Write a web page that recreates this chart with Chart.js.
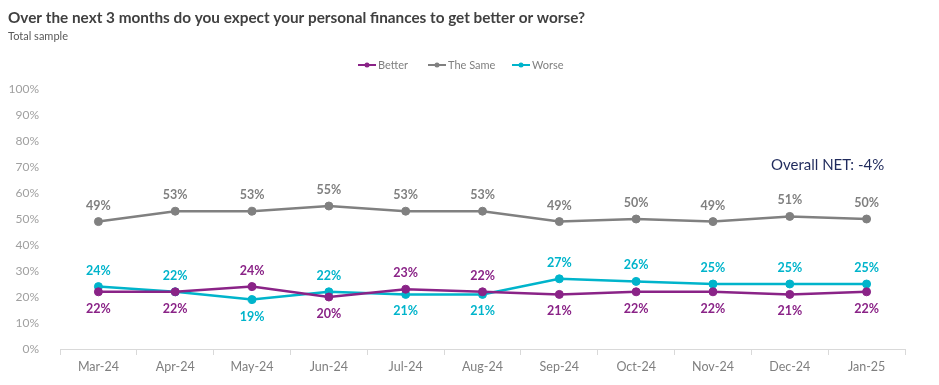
<!DOCTYPE html>
<html>
<head>
<meta charset="utf-8">
<script src="https://cdn.jsdelivr.net/npm/chart.js@4.4.1/dist/chart.umd.min.js"></script>
<style>
  html, body { margin: 0; padding: 0; background: #fff; }
  #wrap { width: 939px; height: 385px; position: relative; }
</style>
</head>
<body>
<div id="wrap"><canvas id="myChart"></canvas></div>
<script>
// data
var months = ['Mar-24', 'Apr-24', 'May-24', 'Jun-24', 'Jul-24', 'Aug-24', 'Sep-24', 'Oct-24', 'Nov-24', 'Dec-24', 'Jan-25'];
var better = [22, 22, 24, 20, 23, 22, 21, 22, 22, 21, 22];
var theSame = [49, 53, 53, 55, 53, 53, 49, 50, 49, 51, 50];
var worse = [24, 22, 19, 22, 21, 21, 27, 26, 25, 25, 25];
var yTicks = [0, 10, 20, 30, 40, 50, 60, 70, 80, 90, 100];

var purple = '#8a2387';
var grey = '#808080';
var cyan = '#00b4cb';
var font = 'Lato, "Open Sans", sans-serif';

// title, subtitle, legend, NET note and point labels drawn on the canvas
var decorations = {
  id: 'decorations',
  afterDatasetsDraw: function (chart) {
    var c = chart.ctx;
    c.save();
    c.textBaseline = 'alphabetic';
    c.textAlign = 'left';
    c.fillStyle = '#404040';
    c.font = 'bold 15.3px ' + font;
    c.fillText('Over the next 3 months do you expect your personal finances to get better or worse?', 8, 23);
    c.font = '11px ' + font;
    c.fillStyle = '#595959';
    c.fillText('Total sample', 8, 40);

    // legend
    var items = [['Better', purple, 358], ['The Same', grey, 428], ['Worse', cyan, 512]];
    c.font = '11px ' + font;
    c.textBaseline = 'middle';
    items.forEach(function (it) {
      c.strokeStyle = it[1];
      c.lineWidth = 2;
      c.beginPath();
      c.moveTo(it[2], 65);
      c.lineTo(it[2] + 18, 65);
      c.stroke();
      c.fillStyle = it[1];
      c.beginPath();
      c.arc(it[2] + 9, 65, 2.5, 0, Math.PI * 2);
      c.fill();
      c.fillStyle = '#7f7f7f';
      c.fillText(it[0], it[2] + 20, 65);
    });

    c.font = '15px ' + font;
    c.fillStyle = '#1f2a5c';
    c.fillText('Overall NET: -4%', 771, 165);

    // point labels
    c.font = 'bold 12.5px ' + font;
    c.textAlign = 'center';
    var metas = [chart.getDatasetMeta(0), chart.getDatasetMeta(1), chart.getDatasetMeta(2)];
    var series = [better, theSame, worse];
    var colors = [purple, grey, cyan];
    months.forEach(function (m, i) {
      for (var d = 0; d < 3; d++) {
        var pt = metas[d].data[i];
        var above;
        if (d === 1) above = true;
        else if (d === 0) above = better[i] > worse[i];
        else above = worse[i] >= better[i];
        c.fillStyle = colors[d];
        c.fillText(series[d][i] + '%', pt.x, above ? pt.y - 16 : pt.y + 17);
      }
    });
    c.restore();
  }
};

var ctx = document.getElementById('myChart').getContext('2d');
var chart = new Chart(ctx, {
  type: 'line',
  data: {
    labels: months,
    datasets: [
      { label: 'Better', data: better, borderColor: purple, backgroundColor: purple },
      { label: 'The Same', data: theSame, borderColor: grey, backgroundColor: grey },
      { label: 'Worse', data: worse, borderColor: cyan, backgroundColor: cyan }
    ]
  },
  options: {
    responsive: true,
    maintainAspectRatio: false,
    animation: false,
    layout: { padding: { top: 89, left: 8, right: 34, bottom: 0 } },
    elements: {
      line: { borderWidth: 2.5, tension: 0 },
      point: { radius: 4, hoverRadius: 4 }
    },
    plugins: {
      legend: { display: false },
      tooltip: { enabled: false }
    },
    scales: {
      x: {
        offset: true,
        grid: { offset: true, drawOnChartArea: false, tickLength: 6, color: '#d9d9d9' },
        border: { color: '#d9d9d9' },
        ticks: { color: '#7f7f7f', font: { family: font, size: 12.5 }, padding: 4 },
        afterFit: function (s) { s.height = 36; }
      },
      y: {
        min: 0,
        max: 100,
        afterBuildTicks: function (s) { s.ticks = yTicks.map(function (v) { return { value: v }; }); },
        grid: { display: false },
        border: { display: false },
        ticks: {
          color: '#a0a0a0',
          font: { family: font, size: 12 },
          padding: 13,
          callback: function (v) { return v + '%'; }
        },
        afterFit: function (s) { s.width = 52; }
      }
    }
  },
  plugins: [decorations]
});
</script>
</body>
</html>
